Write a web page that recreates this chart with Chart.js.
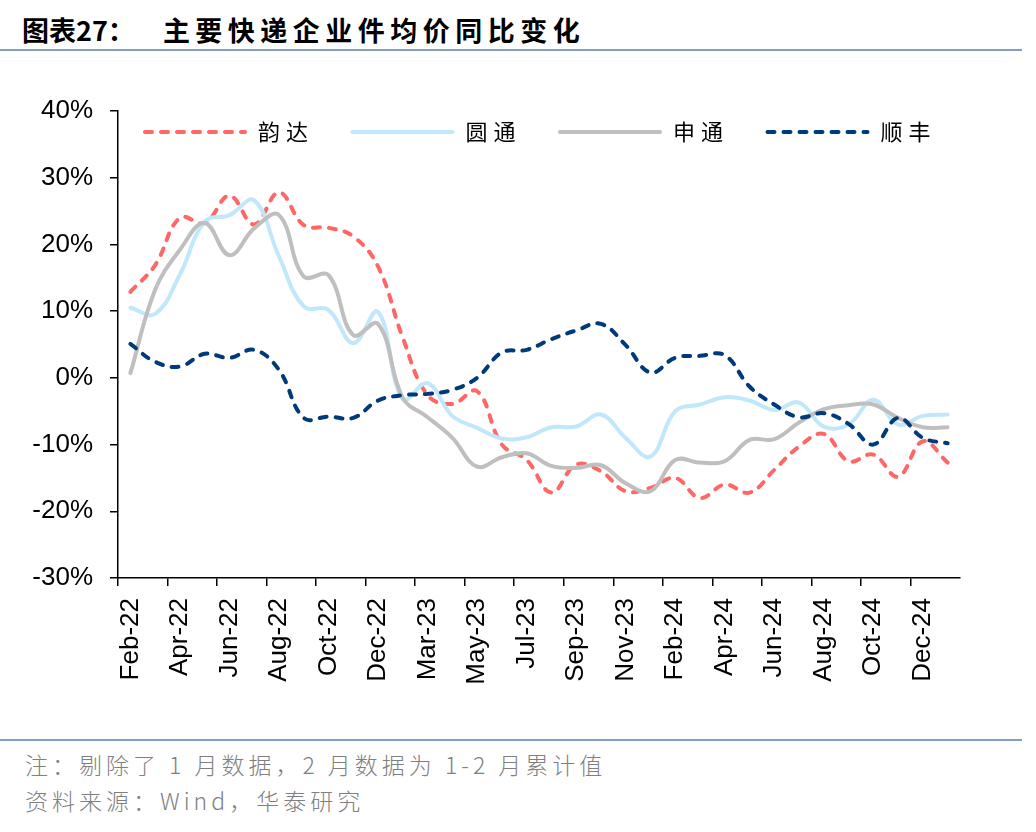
<!DOCTYPE html>
<html lang="zh">
<head>
  <meta charset="UTF-8" />
  <title>主要快递企业件均价同比变化</title>
  <script src="https://cdn.jsdelivr.net/npm/chart.js"></script>
  <style>
    body { margin: 0; width: 1036px; height: 832px; background: #fff; position: relative; overflow: hidden; }
    .title { position: absolute; left: 22px; top: 10px; font: 700 27px "Noto Sans CJK SC"; color: #000; white-space: nowrap; }
    .title .sub { margin-left: 28px; letter-spacing: 5.5px; }
    .rule { position: absolute; left: 0; width: 1022px; height: 2px; background: #7f9fc8; }
    .note { position: absolute; left: 25px; font: 300 23px "Noto Sans CJK SC"; color: #7f7f7f; letter-spacing: 4px; white-space: nowrap; }
    #wrap { position: absolute; left: 0; top: 60px; width: 1036px; height: 660px; }
  </style>
</head>
<body>
  <div class="title">图表27：<span class="sub">主要快递企业件均价同比变化</span></div>
  <div class="rule" style="top:49px"></div>
  <div id="wrap"><canvas id="chart" width="1036" height="660"></canvas></div>
  <div class="rule" style="top:739px"></div>
  <div class="note" style="top:747px">注：剔除了 1 月数据，2 月数据为 1-2 月累计值</div>
  <div class="note" style="top:783px">资料来源：Wind，华泰研究</div>

  <script>
    // monthly, January dropped (Feb = Jan-Feb cumulative)
    const months = ['Feb-22','Mar-22','Apr-22','May-22','Jun-22','Jul-22','Aug-22','Sep-22','Oct-22','Nov-22','Dec-22',
      'Feb-23','Mar-23','Apr-23','May-23','Jun-23','Jul-23','Aug-23','Sep-23','Oct-23','Nov-23','Dec-23',
      'Feb-24','Mar-24','Apr-24','May-24','Jun-24','Jul-24','Aug-24','Sep-24','Oct-24','Nov-24','Dec-24','Feb-25'];

    // YoY change, %
    const yunda = [12.9,16.9,24.0,23.2,27.3,23.0,27.8,22.9,22.5,21.2,16.7,
      6.0,-2.6,-3.9,-2.0,-10.0,-12.3,-17.2,-13.0,-14.0,-17.0,-16.5,
      -15.0,-18.0,-16.0,-17.2,-13.8,-10.3,-8.4,-12.5,-11.5,-14.8,-9.5,-12.7];
    const yuantong = [10.5,9.6,15.5,23.4,24.4,26.6,18.2,10.7,10.2,5.2,9.9,
      -3.2,-0.8,-5.7,-7.5,-9.1,-8.9,-7.4,-7.3,-5.5,-9.0,-11.8,
      -5.0,-4.0,-2.9,-3.4,-4.8,-3.7,-7.3,-7.0,-3.3,-7.0,-5.7,-5.5];
    const shentong = [0.7,13.2,19.2,23.2,18.4,22.4,24.4,15.2,15.4,6.4,8.1,
      -3.0,-5.9,-9.0,-13.3,-11.9,-11.3,-13.2,-13.5,-13.1,-15.8,-17.0,
      -12.3,-12.7,-12.5,-9.3,-9.2,-6.7,-4.7,-4.1,-4.0,-6.0,-7.4,-7.4];
    const shunfeng = [5.1,2.4,1.7,3.6,3.0,4.2,1.2,-6.0,-5.8,-6.0,-3.4,
      -2.6,-2.4,-1.8,0.0,3.8,4.2,5.8,7.1,8.1,4.9,0.8,
      3.0,3.3,3.4,-1.3,-4.0,-5.9,-5.3,-6.9,-10.0,-6.0,-9.0,-9.8];

    const yTicks = [-30, -20, -10, 0, 10, 20, 30, 40];

    const tickFont = { family: '"Liberation Sans", Arial, sans-serif', size: 26 };

    // legend drawn inside the plot area, line samples + names
    const lineLegend = {
      id: 'lineLegend',
      afterDraw(chart) {
        const c = chart.ctx;
        chart.data.datasets.forEach((ds, i) => {
          const x = 145 + i * 207.5, y = 72;
          c.save();
          c.strokeStyle = ds.borderColor;
          c.lineWidth = ds.borderWidth;
          c.lineCap = 'round';
          c.setLineDash(ds.borderDash || []);
          c.beginPath();
          c.moveTo(x, y);
          c.lineTo(x + 100, y);
          c.stroke();
          c.setLineDash([]);
          c.fillStyle = '#000';
          c.font = '22px "Noto Sans CJK SC"';
          c.letterSpacing = '6px';
          c.textBaseline = 'middle';
          c.fillText(ds.label, x + 113, y);
          c.restore();
        });
      }
    };

    const ctx = document.getElementById('chart').getContext('2d');
    new Chart(ctx, {
      type: 'line',
      data: {
        labels: months,
        datasets: [
          { label: '韵达', data: yunda, borderColor: '#ff6666', borderWidth: 4, borderDash: [7, 9], borderCapStyle: 'round', order: 4 },
          { label: '圆通', data: yuantong, borderColor: '#c0e8fa', borderWidth: 4, borderCapStyle: 'round', order: 3 },
          { label: '申通', data: shentong, borderColor: '#bfbfbf', borderWidth: 4, borderCapStyle: 'round', order: 2 },
          { label: '顺丰', data: shunfeng, borderColor: '#003a78', borderWidth: 4, borderDash: [7, 9], borderCapStyle: 'round', order: 1 }
        ]
      },
      options: {
        responsive: false,
        animation: false,
        devicePixelRatio: 1,
        layout: { padding: { top: 51, right: 76, bottom: 22, left: 0 } },
        elements: {
          line: { tension: 0.4, fill: false },
          point: { radius: 0, hoverRadius: 0 }
        },
        plugins: {
          legend: { display: false },
          tooltip: { enabled: false }
        },
        scales: {
          x: {
            type: 'category',
            offset: true,
            border: { display: true, color: '#000', width: 1.5 },
            grid: {
              offset: true,
              drawOnChartArea: false,
              drawTicks: true,
              tickLength: 8,
              lineWidth: 1.5,
              // tick marks only at every second category boundary
              color: c => (c.index % 2 === 0 ? '#000' : 'rgba(0,0,0,0)')
            },
            ticks: {
              autoSkip: false,
              minRotation: 90,
              maxRotation: 90,
              padding: 12,
              color: '#000',
              font: tickFont,
              callback: (v, i) => (i % 2 === 0 ? months[i] : '')
            },
            afterFit: s => { s.height = 120; }
          },
          y: {
            min: -30,
            max: 40,
            afterBuildTicks: s => { s.ticks = yTicks.map(v => ({ value: v })); },
            border: { display: true, color: '#000', width: 1.5 },
            grid: { drawOnChartArea: false, drawTicks: true, tickLength: 8, color: '#000', lineWidth: 1.5 },
            ticks: {
              padding: 17,
              color: '#000',
              font: tickFont,
              callback: v => v + '%'
            },
            afterFit: s => { s.width = 118; }
          }
        }
      },
      plugins: [lineLegend]
    });
  </script>
</body>
</html>
